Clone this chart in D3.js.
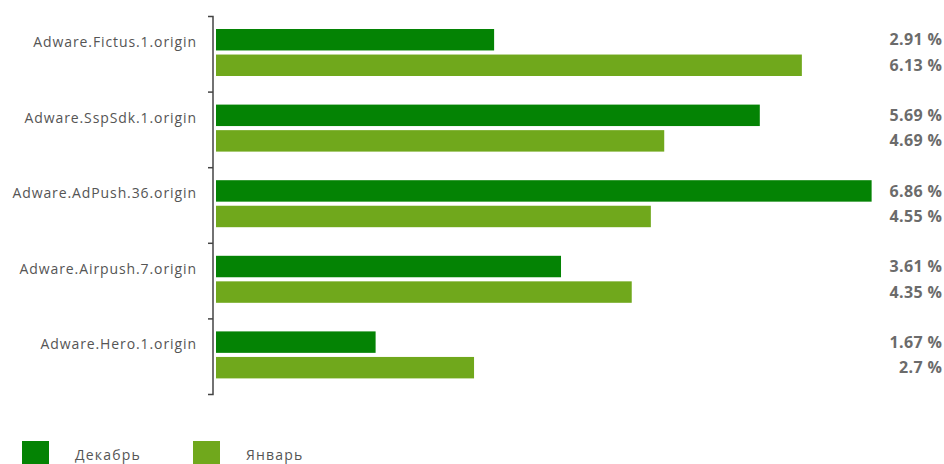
<!DOCTYPE html>
<html>
<head>
<meta charset="utf-8">
<script src="https://cdn.jsdelivr.net/npm/d3@7"></script>
<style>
  html, body { margin: 0; padding: 0; background: #fff; }
  svg { display: block; }
</style>
</head>
<body>
<svg id="chart" width="944" height="464"></svg>
<script>
// data
const categories = ["Adware.Fictus.1.origin", "Adware.SspSdk.1.origin", "Adware.AdPush.36.origin", "Adware.Airpush.7.origin", "Adware.Hero.1.origin"];
const seriesNames = ["Декабрь", "Январь"];
const decValues = [2.91, 5.69, 6.86, 3.61, 1.67];
const janValues = [6.13, 4.69, 4.55, 4.35, 2.7];
const valueLabels = [["2.91 %", "6.13 %"], ["5.69 %", "4.69 %"], ["6.86 %", "4.55 %"], ["3.61 %", "4.35 %"], ["1.67 %", "2.7 %"]];
const colors = ["#048304", "#70a81c"];

const svg = d3.select("#chart");

// scales
const y = d3.scaleBand().domain(categories).range([16, 394]).padding(0);
const ySub = d3.scaleBand().domain([0, 1]).range([13, 60]).paddingInner(0.16);
const x = d3.scaleLinear().domain([0, 7]).range([216, 885]);

const rows = categories.map((c, i) => ({ cat: c, vals: [decValues[i], janValues[i]], labels: valueLabels[i] }));

// bars
const g = svg.selectAll("g.row").data(rows).enter().append("g")
    .attr("class", "row")
    .attr("transform", d => `translate(0,${y(d.cat)})`);

g.selectAll("rect").data(d => d.vals).enter().append("rect")
    .attr("x", x(0))
    .attr("y", (d, i) => ySub(i))
    .attr("width", d => x(d) - x(0))
    .attr("height", ySub.bandwidth())
    .attr("fill", (d, i) => colors[i]);

// value labels on the right
g.selectAll("text.val").data(d => d.labels).enter().append("text")
    .attr("class", "val")
    .attr("x", 942.4)
    .attr("y", (d, i) => ySub(i) + ySub.bandwidth() / 2)
    .attr("dy", "0.35em")
    .attr("text-anchor", "end")
    .attr("font-family", "'Open Sans', sans-serif")
    .attr("font-weight", "bold")
    .attr("font-size", 16)
    .attr("letter-spacing", 0.4)
    .attr("fill", "#6b6b6b")
    .text(d => d);

// axis
const axis = d3.axisLeft(y).tickSize(5).tickFormat("");
const axG = svg.append("g").attr("transform", "translate(213,0)").call(axis);
axG.select(".domain").attr("stroke", "#444").attr("stroke-width", 1.5).attr("d", "M-5,16.5H0V394.5H-5");
// ticks at band boundaries instead of centers
axG.selectAll(".tick").remove();
axG.selectAll("line.bt").data(categories.slice(1)).enter().append("line")
    .attr("class", "bt")
    .attr("x1", -5).attr("x2", 0)
    .attr("y1", d => y(d) + 0.5).attr("y2", d => y(d) + 0.5)
    .attr("stroke", "#444").attr("stroke-width", 1.5);

// category labels
svg.selectAll("text.cat").data(categories).enter().append("text")
    .attr("class", "cat")
    .attr("x", 196.9)
    .attr("y", d => y(d) + 26)
    .attr("dy", "0.35em")
    .attr("text-anchor", "end")
    .attr("font-family", "'Open Sans', sans-serif")
    .attr("font-size", 14)
    .attr("letter-spacing", 0.9)
    .attr("fill", "#555")
    .text(d => d);

// legend
const legendX = [22, 193];
const lg = svg.selectAll("g.legend").data(seriesNames).enter().append("g")
    .attr("class", "legend")
    .attr("transform", (d, i) => `translate(${legendX[i]},441)`);
lg.append("rect").attr("width", 27).attr("height", 26).attr("fill", (d, i) => colors[i]);
lg.append("text")
    .attr("x", 53).attr("y", 19)
    .attr("font-family", "'Open Sans', sans-serif")
    .attr("font-size", 14)
    .attr("letter-spacing", 1.2)
    .attr("fill", "#555")
    .text(d => d);
</script>
</body>
</html>
